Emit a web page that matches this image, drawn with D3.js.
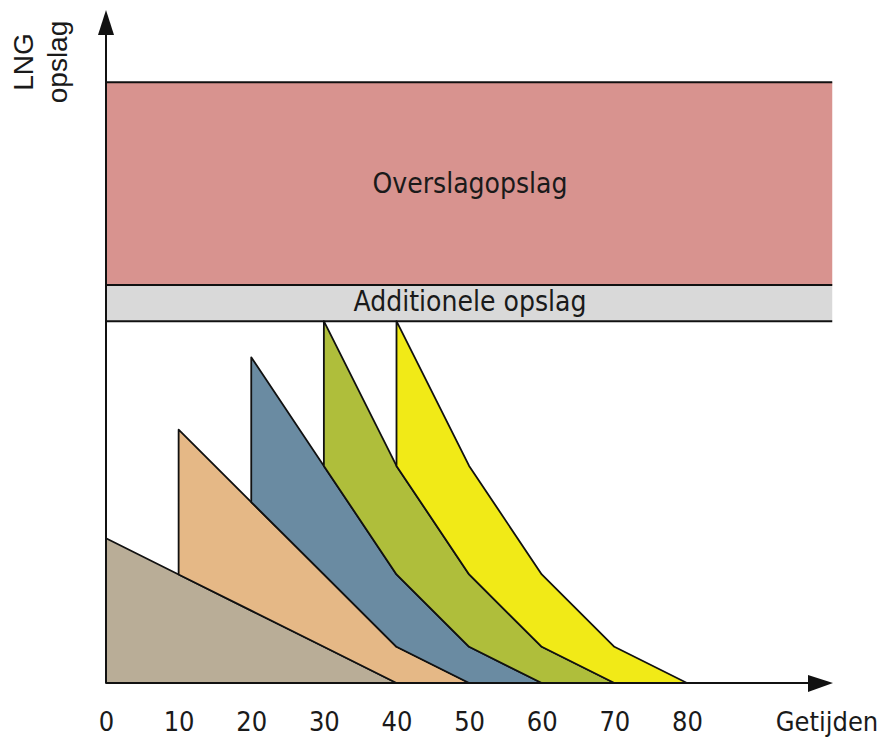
<!DOCTYPE html>
<html>
<head>
<meta charset="utf-8">
<script src="https://cdn.jsdelivr.net/npm/d3@7"></script>
<style>
  body { margin: 0; background: #fff; }
  text { font-family: "DejaVu Sans Condensed", "DejaVu Sans", sans-serif; font-stretch: condensed; fill: #1a1a1a; }
</style>
</head>
<body>
<div id="chart"></div>
<script>
// Getijden (tides) on the x axis
const getijden = [0, 10, 20, 30, 40, 50, 60, 70, 80];
const tickLabels = ['0', '10', '20', '30', '40', '50', '60', '70', '80'];

// LNG stored per batch at each tide (null = batch not yet arrived)
const batchKeys = ['b1', 'b2', 'b3', 'b4', 'b5'];
const batch1 = [4, 3, 2, 1, 0, 0, 0, 0, 0];
const batch2 = [null, 4, 3, 2, 1, 0, 0, 0, 0];
const batch3 = [null, null, 4, 3, 2, 1, 0, 0, 0];
const batch4 = [null, null, null, 4, 3, 2, 1, 0, 0];
const batch5 = [null, null, null, null, 4, 3, 2, 1, 0];
const batchColors = ['#b9ad97', '#e5b886', '#6a8ba2', '#afbe3b', '#f1ea17'];

// storage bands: [from, to]
const additioneleOpslag = [10, 11];
const overslagOpslag = [11, 16.6];
const bandEnd = 100;

const width = 887, height = 743;
const svg = d3.select('#chart').append('svg')
    .attr('width', width)
    .attr('height', height);

const x = d3.scaleLinear().domain([0, 80]).range([106, 687]);
const y = d3.scaleLinear().domain([0, 18.6]).range([683, 10]);

// rows by tide
const batches = [batch1, batch2, batch3, batch4, batch5];
const rows = getijden.map((t, i) => {
    const row = { t };
    batchKeys.forEach((k, j) => { row[k] = batches[j][i]; });
    return row;
});

const stack = d3.stack()
    .keys(batchKeys)
    .value((d, k) => d[k] == null ? 0 : d[k]);
const layers = stack(rows);

// bands
const bands = [
    { range: overslagOpslag, fill: '#d8938f', label: 'Overslagopslag', labelY: 193 },
    { range: additioneleOpslag, fill: '#d9d9d9', label: 'Additionele opslag', labelY: 311 }
];

svg.selectAll('.band')
    .data(bands)
    .enter().append('rect')
    .attr('class', 'band')
    .attr('x', x(0))
    .attr('width', x(bandEnd) - x(0))
    .attr('y', d => y(d.range[1]))
    .attr('height', d => y(d.range[0]) - y(d.range[1]))
    .attr('fill', d => d.fill);

const bandLines = [overslagOpslag[1], overslagOpslag[0], additioneleOpslag[0]];
svg.selectAll('.band-line')
    .data(bandLines)
    .enter().append('line')
    .attr('x1', x(0))
    .attr('x2', x(bandEnd))
    .attr('y1', d => y(d))
    .attr('y2', d => y(d))
    .attr('stroke', '#111')
    .attr('stroke-width', 2);

svg.selectAll('.band-label')
    .data(bands)
    .enter().append('text')
    .attr('x', 470)
    .attr('y', d => d.labelY)
    .attr('text-anchor', 'middle')
    .attr('font-size', '28px')
    .text(d => d.label);

// stacked batch areas
layers.forEach((layer, i) => {
    const key = batchKeys[i];
    const area = d3.area()
        .x(d => x(d.data.t))
        .y0(d => y(d[0]))
        .y1(d => y(d[1]));
    // only the part where the batch is present (stop once it reaches zero)
    const pts = layer.filter(d => d.data[key] != null);
    const endIdx = pts.findIndex(d => d.data[key] === 0);
    const visible = endIdx >= 0 ? pts.slice(0, endIdx + 1) : pts;
    svg.append('path')
        .datum(visible)
        .attr('d', area)
        .attr('fill', batchColors[i])
        .attr('stroke', '#111')
        .attr('stroke-width', 1.8)
        .attr('stroke-linejoin', 'round');
});

// axes with arrows
svg.append('line')
    .attr('x1', x(0)).attr('y1', y(0))
    .attr('x2', 815).attr('y2', y(0))
    .attr('stroke', '#111').attr('stroke-width', 2);
svg.append('path')
    .attr('d', `M808,675 L833,683 L808,692 Z`)
    .attr('fill', '#111');

svg.append('line')
    .attr('x1', x(0)).attr('y1', y(0))
    .attr('x2', x(0)).attr('y2', 30)
    .attr('stroke', '#111').attr('stroke-width', 2);
svg.append('path')
    .attr('d', `M${x(0) - 8},35 L${x(0)},10 L${x(0) + 8},35 Z`)
    .attr('fill', '#111');

// tick labels
const xAxis = d3.axisBottom(x)
    .tickValues(getijden)
    .tickFormat((d, i) => tickLabels[i])
    .tickSize(0)
    .tickPadding(0);
const gx = svg.append('g')
    .attr('transform', 'translate(0,711)')
    .call(xAxis);
gx.select('.domain').remove();
gx.selectAll('text')
    .attr('font-size', '27px')
    .attr('fill', '#1a1a1a')
    .attr('dy', '0.75em');
gx.attr('font-family', null).attr('font-size', null);

svg.append('text')
    .attr('x', 827)
    .attr('y', 731)
    .attr('text-anchor', 'middle')
    .attr('font-size', '27px')
    .text('Getijden');

// y axis title
const yTitle = svg.append('text')
    .attr('transform', 'translate(33,62) rotate(-90)')
    .attr('text-anchor', 'middle')
    .style('font-family', '"Liberation Sans", Arial, sans-serif')
    .style('font-stretch', 'normal')
    .attr('font-size', '28px');
yTitle.append('tspan').attr('x', 0).attr('y', 0).text('LNG');
yTitle.append('tspan').attr('x', 0).attr('y', 34).text('opslag');
</script>
</body>
</html>
